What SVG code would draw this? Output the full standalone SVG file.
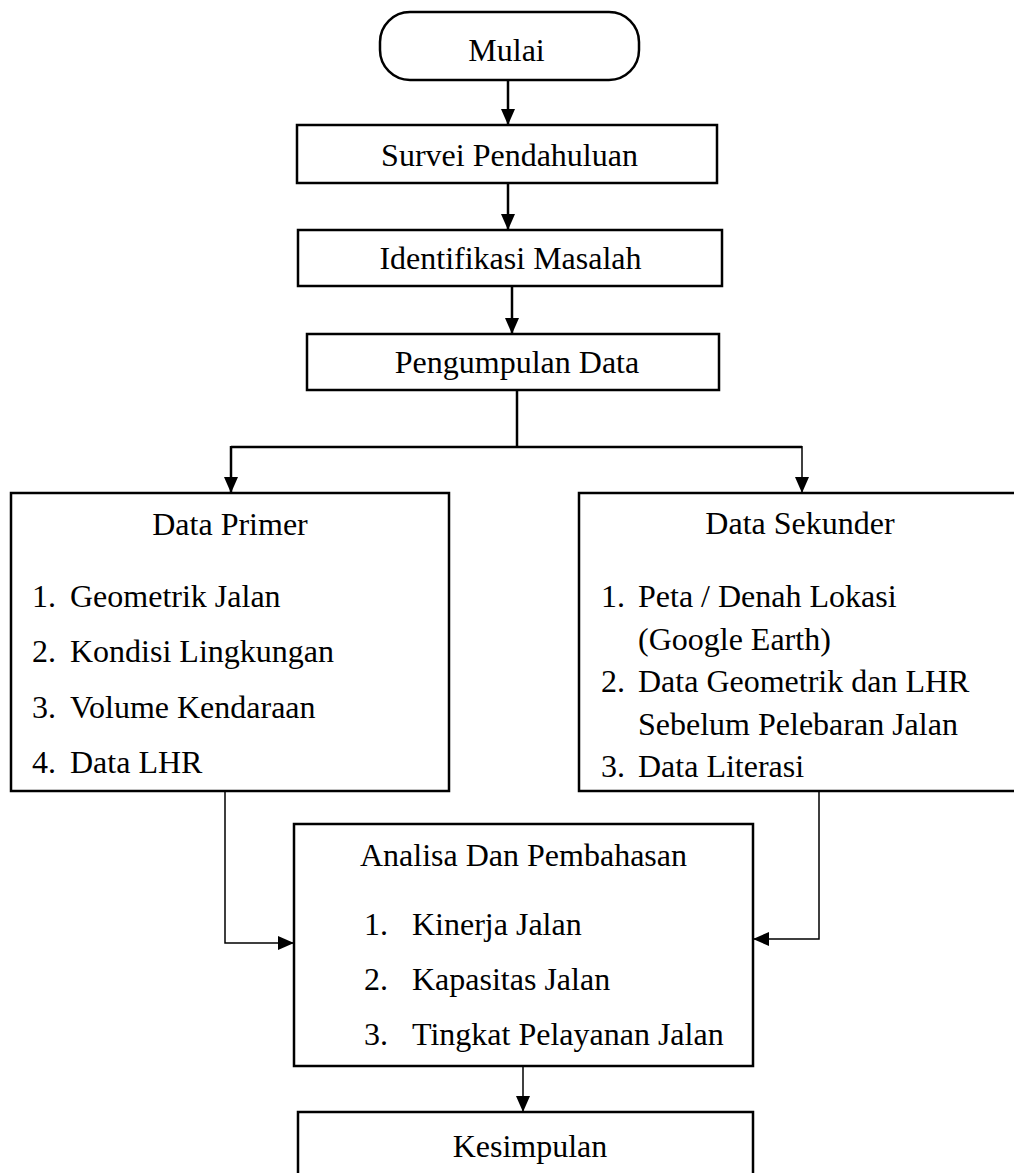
<svg xmlns="http://www.w3.org/2000/svg" width="1014" height="1173" viewBox="0 0 1014 1173">
<style>
.box{fill:#fff;stroke:#000;stroke-width:2.5}
.t{font-family:"Liberation Serif","Times New Roman",serif;font-size:32px;fill:#000}
.c{text-anchor:middle}
.ln{fill:none;stroke:#000;stroke-width:2.5}
.thin{fill:none;stroke:#000;stroke-width:1.5}
</style>
<defs>
<marker id="ah" viewBox="0 0 16 16" refX="16" refY="8" markerWidth="16" markerHeight="16" orient="auto" markerUnits="userSpaceOnUse">
<path d="M0,1 L16,8 L0,15 z" fill="#000"/>
</marker>
</defs>
<rect width="1014" height="1173" fill="#fff"/>
<g id="connectors">
<line class="ln" x1="508" y1="80" x2="508" y2="125" marker-end="url(#ah)"/>
<line class="ln" x1="508" y1="183" x2="508" y2="230" marker-end="url(#ah)"/>
<line class="ln" x1="512" y1="286" x2="512" y2="334" marker-end="url(#ah)"/>
<polyline class="ln" points="517,390 517,447"/>
<polyline class="ln" points="231,447 802,447"/>
<line class="ln" x1="231" y1="446" x2="231" y2="493" marker-end="url(#ah)"/>
<line class="thin" x1="802" y1="446" x2="802" y2="493" marker-end="url(#ah)"/>
<polyline class="thin" points="225,791 225,943 294,943" marker-end="url(#ah)"/>
<polyline class="thin" points="819,791 819,939 753,939" marker-end="url(#ah)"/>
<line class="thin" x1="523" y1="1066" x2="523" y2="1112" marker-end="url(#ah)"/>
</g>
<g id="mulai">
<rect class="box" x="380" y="12" width="259" height="68" rx="30" ry="30"/>
<text class="t c" x="506.5" y="61">Mulai</text>
</g>
<g id="survei">
<rect class="box" x="297" y="125" width="420" height="58"/>
<text class="t c" x="509.5" y="166">Survei Pendahuluan</text>
</g>
<g id="identifikasi">
<rect class="box" x="298" y="230" width="424" height="56"/>
<text class="t c" x="510.5" y="269">Identifikasi Masalah</text>
</g>
<g id="pengumpulan">
<rect class="box" x="307" y="334" width="412" height="56"/>
<text class="t c" x="517" y="373">Pengumpulan Data</text>
</g>
<g id="data-primer">
<rect class="box" x="11" y="493" width="438" height="298"/>
<text class="t c" x="230" y="535">Data Primer</text>
<text class="t" x="32" y="607">1.</text><text class="t" x="70" y="607">Geometrik Jalan</text>
<text class="t" x="32" y="662">2.</text><text class="t" x="70" y="662">Kondisi Lingkungan</text>
<text class="t" x="32" y="718">3.</text><text class="t" x="70" y="718">Volume Kendaraan</text>
<text class="t" x="32" y="773">4.</text><text class="t" x="70" y="773">Data LHR</text>
</g>
<g id="data-sekunder">
<rect class="box" x="579" y="493" width="445" height="298"/>
<text class="t c" x="800" y="534">Data Sekunder</text>
<text class="t" x="601" y="607">1.</text><text class="t" x="638" y="607">Peta / Denah Lokasi</text>
<text class="t" x="638" y="650">(Google Earth)</text>
<text class="t" x="601" y="692">2.</text><text class="t" x="638" y="692">Data Geometrik dan LHR</text>
<text class="t" x="638" y="735">Sebelum Pelebaran Jalan</text>
<text class="t" x="601" y="777">3.</text><text class="t" x="638" y="777">Data Literasi</text>
</g>
<g id="analisa">
<rect class="box" x="294" y="824" width="459" height="242"/>
<text class="t c" x="523.5" y="866">Analisa Dan Pembahasan</text>
<text class="t" x="364" y="935">1.</text><text class="t" x="412" y="935">Kinerja Jalan</text>
<text class="t" x="364" y="990">2.</text><text class="t" x="412" y="990">Kapasitas Jalan</text>
<text class="t" x="364" y="1045">3.</text><text class="t" x="412" y="1045">Tingkat Pelayanan Jalan</text>
</g>
<g id="kesimpulan">
<rect class="box" x="298" y="1112" width="455" height="80"/>
<text class="t c" x="530" y="1157">Kesimpulan</text>
</g>
</svg>
